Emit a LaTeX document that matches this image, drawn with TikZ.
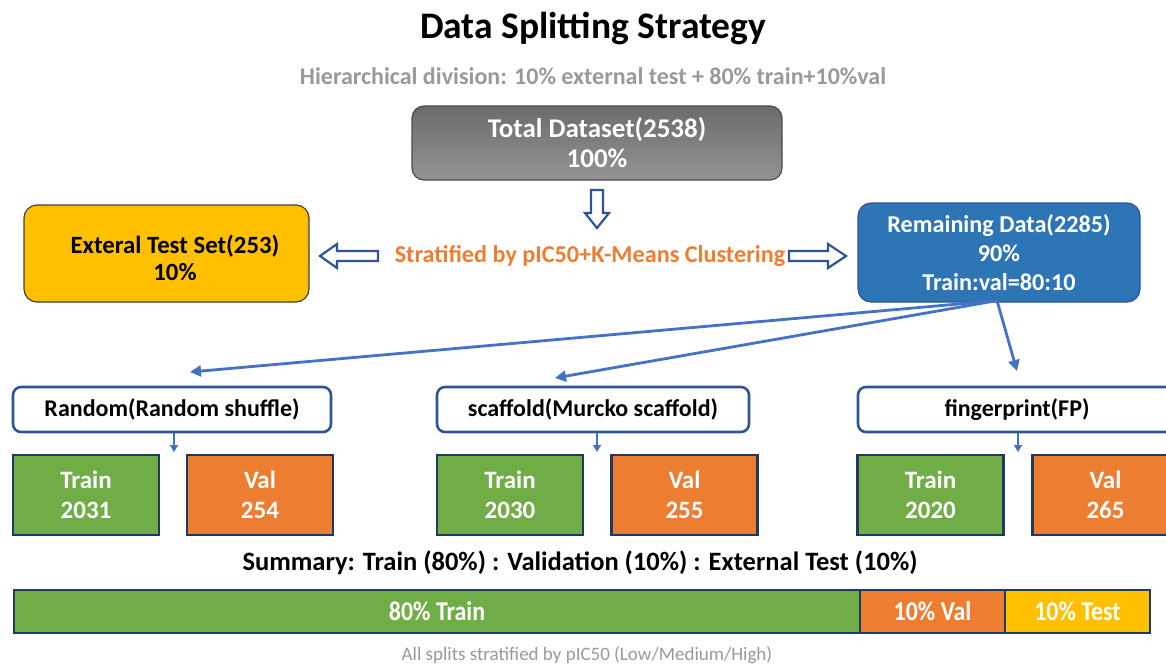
\documentclass[tikz,border=0pt]{standalone}
\usepackage{fontspec}
\setmainfont{Carlito}
\usetikzlibrary{arrows.meta,calc}
\definecolor{cgray}{HTML}{999999}
\definecolor{corange}{HTML}{ED7D31}
\definecolor{cgreen}{HTML}{70AD47}
\definecolor{cgold}{HTML}{FFC000}
\definecolor{cblue}{HTML}{2E75B6}
\definecolor{cbord}{HTML}{2F5597}
\definecolor{cnavy}{HTML}{1F3864}
\definecolor{carrow}{HTML}{4472C4}
\begin{document}
\begin{tikzpicture}[x=1pt,y=-1pt,
  boxfont/.style={font=\bfseries\fontsize{24}{30}\selectfont},
  bigbox/.style={boxfont,rounded corners=13pt,align=center,inner sep=0pt,line width=1.2pt},
  method/.style={boxfont,draw=cbord,fill=white,rounded corners=8pt,line width=2.6pt,minimum width=318pt,minimum height=45pt,inner sep=0pt},
  split/.style={font=\bfseries\fontsize{25}{30}\selectfont,text=white,draw=cnavy,line width=2.8pt,minimum width=146pt,minimum height=80pt,inner sep=0pt,align=center},
  seg/.style={font=\bfseries\fontsize{23}{28}\selectfont,text=white,draw=cnavy,line width=2.4pt,minimum height=43pt,inner sep=0pt},
  hollow/.style={draw=cbord,fill=white,line width=2.2pt,line join=miter},
  conn/.style={draw=carrow,line width=2.8pt,-{Triangle[length=11pt,width=11pt]}},
  sconn/.style={draw=carrow,line width=1.8pt,-{Triangle[length=7pt,width=8pt]}}]
\useasboundingbox (0,0) rectangle (1166,665);
\fill[white] (0,0) rectangle (1166,665);

\node[font=\bfseries\fontsize{37.5}{40}\selectfont] (title) at (593,28) {Data Splitting Strategy};
\node[font=\bfseries\fontsize{24}{26}\selectfont,text=cgray] (sub) at (593,76) {Hierarchical division: 10\% external test + 80\% train+10\%val};

\node[bigbox,draw=black!70,top color=black!58,bottom color=black!42,text=white,minimum width=370pt,minimum height=74pt,rounded corners=12pt,font=\bfseries\fontsize{27}{30}\selectfont] (total) at (597,143) {Total Dataset(2538)\\100\%};

\node[bigbox,draw=black!75,fill=cgold,minimum width=285pt,minimum height=97pt] (ext) at (166.5,253.5) {};
\node[font=\bfseries\fontsize{24.8}{27}\selectfont,align=center] (exttxt) at (175,258) {Exteral Test Set(253)\\10\%};

\node[bigbox,draw=cbord,fill=cblue,text=white,minimum width=282pt,minimum height=99pt,font=\bfseries\fontsize{24.2}{29}\selectfont] (rem) at (999,252.5) {Remaining Data(2285)\\90\%\\Train:val=80:10};

\node[font=\bfseries\fontsize{24.2}{26}\selectfont,text=corange] (strat) at (590,256) {Stratified by pIC50+K-Means Clustering};

% hollow arrows
\draw[hollow] (591,190) -- (603,190) -- (603,213) -- (609,213) -- (597,228) -- (585,213) -- (591,213) -- cycle;
\draw[hollow] (378,251) -- (337,251) -- (337,244) -- (320,256) -- (337,268) -- (337,261) -- (378,261) -- cycle;
\draw[hollow] (789,251) -- (828,251) -- (828,244) -- (846,256) -- (828,268) -- (828,261) -- (789,261) -- cycle;

% method boxes
\node[method] (rnd) at (172,409.5) {Random(Random shuffle)};
\node[method,minimum width=312pt] (scf) at (593,409.5) {scaffold(Murcko scaffold)};
\node[method] (fp) at (1017,409.5) {fingerprint(FP)};

\coordinate (trnd) at (190,372);
\coordinate (tscf) at (555,378);
\coordinate (tfp) at (1017,371);
\draw[conn] ([xshift=-2pt,yshift=2pt]rem.south) -- (trnd);
\draw[conn] ([xshift=-2pt,yshift=2pt]rem.south) -- (tscf);
\draw[conn] ([xshift=-2pt,yshift=2pt]rem.south) -- (tfp);

% splits
\node[split,fill=cgreen] (rtr) at (86,495) {Train\\2031};
\node[split,fill=corange] (rva) at (260,495) {Val\\254};
\node[split,fill=cgreen] (str) at (510,495) {Train\\2030};
\node[split,fill=corange] (sva) at (684.5,495) {Val\\255};
\node[split,fill=cgreen] (ftr) at (930.5,495) {Train\\2020};
\node[split,fill=corange] (fva) at (1105.5,495) {Val\\265};

\coordinate (arnd) at (174,452);
\coordinate (ascf) at (597,452);
\coordinate (afp) at (1018,452);
\draw[sconn] (rnd.south -| arnd) -- (arnd);
\draw[sconn] (scf.south -| ascf) -- (ascf);
\draw[sconn] (fp.south -| afp) -- (afp);

% summary
\node[font=\bfseries\fontsize{26.5}{30}\selectfont] (sum) at (580,563) {Summary: Train (80\%) : Validation (10\%) : External Test (10\%)};
\node[seg,fill=cgreen,minimum width=846pt] (b1) at (437,611.5) {\scalebox{1.04}[1.18]{80\% Train}};
\node[seg,fill=corange,minimum width=145pt] (b2) at (932.5,611.5) {\scalebox{1.04}[1.18]{10\% Val}};
\node[seg,fill=cgold,minimum width=145pt] (b3) at (1077.5,611.5) {\scalebox{1.04}[1.18]{10\% Test}};

\node[font=\fontsize{19}{22}\selectfont,text=cgray] (foot) at (587,655) {All splits stratified by pIC50 (Low/Medium/High)};
\end{tikzpicture}
\end{document}
